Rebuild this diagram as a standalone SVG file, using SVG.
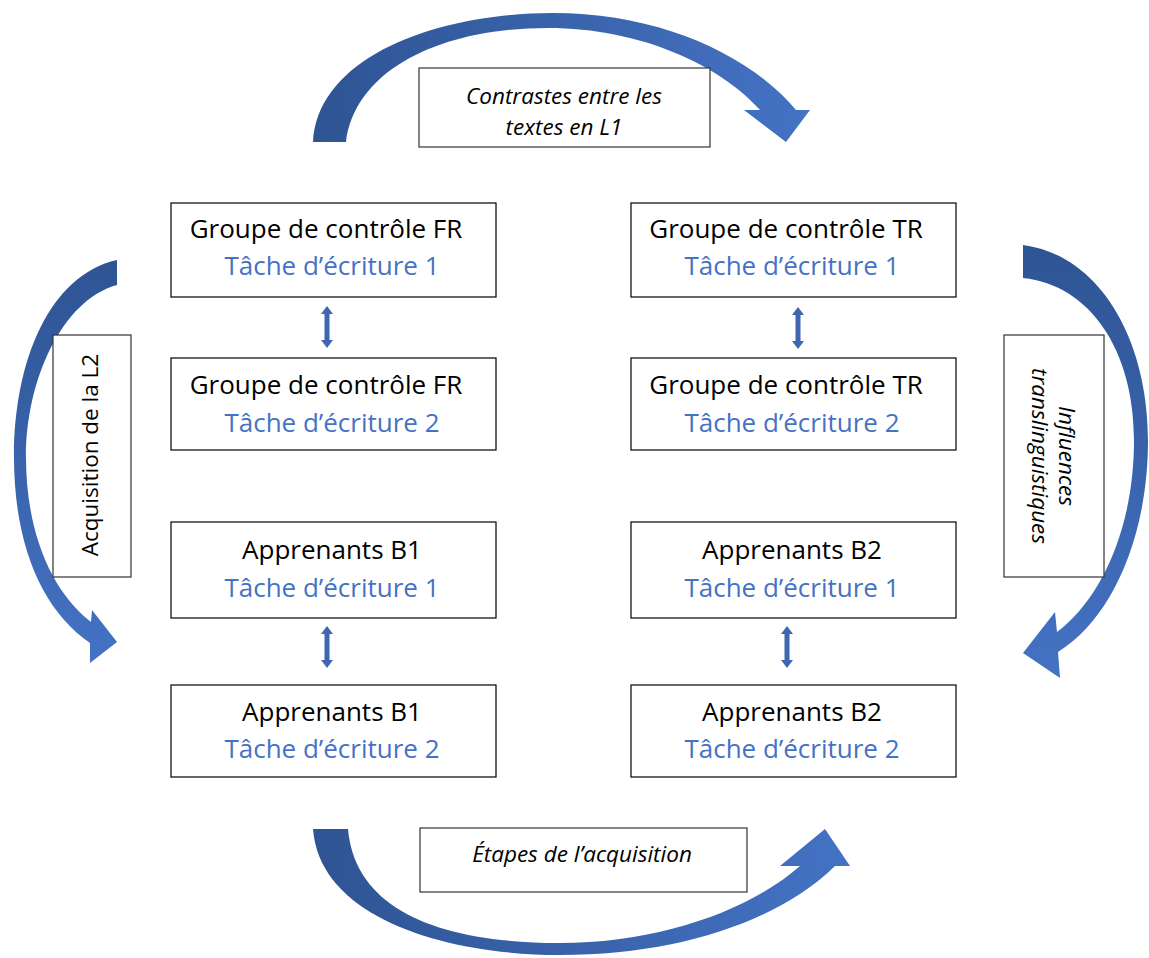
<svg xmlns="http://www.w3.org/2000/svg" width="1149" height="958" viewBox="0 0 1149 958">
<defs>
<linearGradient id="gH" x1="0" y1="0" x2="1" y2="0"><stop offset="0" stop-color="#2E5493"/><stop offset="1" stop-color="#4472C4"/></linearGradient>
<linearGradient id="gV" x1="0" y1="0" x2="0" y2="1"><stop offset="0" stop-color="#2E5493"/><stop offset="1" stop-color="#4472C4"/></linearGradient>
<style>
.box{fill:#fff;stroke:#000;stroke-width:1.2}
.lbl{fill:#fff;stroke:#333;stroke-width:1.2}
.t1{font-family:"Open Sans","Liberation Sans",sans-serif;font-size:26px;fill:#000;text-anchor:middle}
.t2{font-family:"Open Sans","Liberation Sans",sans-serif;font-size:26px;fill:#4472C4;text-anchor:middle}
.li{font-family:"Open Sans","Liberation Sans",sans-serif;font-size:22.5px;font-style:italic;fill:#000;text-anchor:middle}
.ln{font-family:"Open Sans","Liberation Sans",sans-serif;font-size:22.5px;fill:#000;text-anchor:middle}
.dbl{fill:#3F66B0}
</style>
</defs>
<rect width="1149" height="958" fill="#fff"/>
<g id="connectors">
<path id="arc-top" fill="url(#gH)" d="M313,142 C318,55 440,13 553,13 C660,13 750,55 796,110 L810,110 L786,142 L744,110 L760,110 C720,65 640,28 548,28 C440,28 355,70 346,142 Z"/>
<path id="arc-left" fill="url(#gV)" d="M117,260 C50,275 14,360 14,457 C14,545 42,610 90,643 L90,663 L117,642 L92,610 L91,622 C50,590 26,530 26,457 C26,380 62,300 117,285 Z"/>
<path id="arc-right" fill="url(#gV)" d="M1023,245 C1100,255 1148,340 1148,440 C1148,540 1110,620 1058,652 L1060,678 L1023,653 L1055,612 L1057,632 C1100,600 1134,530 1134,440 C1134,350 1090,285 1023,278 Z"/>
<path id="arc-bottom" fill="url(#gH)" d="M313,829 C320,920 450,955 560,955 C680,955 780,920 835,866 L850,866 L825,829 L780,866 L800,866 C750,910 660,943 560,943 C440,943 355,910 348,829 Z"/>
<path class="dbl" d="M327,306 L333,314 L329.5,314 L329.5,340 L333,340 L327,348 L321,340 L324.5,340 L324.5,314 L321,314 Z"/>
<path class="dbl" d="M327,626 L333,634 L329.5,634 L329.5,660 L333,660 L327,668 L321,660 L324.5,660 L324.5,634 L321,634 Z"/>
<path class="dbl" d="M798,307 L804,315 L800.5,315 L800.5,341 L804,341 L798,349 L792,341 L795.5,341 L795.5,315 L792,315 Z"/>
<path class="dbl" d="M787,626 L793,634 L789.5,634 L789.5,660 L793,660 L787,668 L781,660 L784.5,660 L784.5,634 L781,634 Z"/>
</g>
<g id="label-top"><rect class="lbl" x="419" y="68" width="291" height="79"/><text class="li" x="564" y="104">Contrastes entre les</text><text class="li" x="564" y="135">textes en L1</text></g>
<g id="label-bottom"><rect class="lbl" x="420" y="828" width="327" height="64"/><text class="li" x="582" y="862">Étapes de l’acquisition</text></g>
<g id="label-left"><rect class="lbl" x="53" y="335" width="78" height="242"/><text class="ln" transform="translate(98,455) rotate(-90)">Acquisition de la L2</text></g>
<g id="label-right"><rect class="lbl" x="1004" y="335" width="100" height="242"/><g transform="translate(1054,456) rotate(90)"><text class="li" x="0" y="-5">Influences</text><text class="li" x="0" y="22">translinguistiques</text></g></g>
<g id="fr1"><rect class="box" x="171" y="203" width="325" height="94"/><text class="t1" x="326" y="238">Groupe de contrôle FR</text><text class="t2" x="332" y="275">Tâche d’écriture 1</text></g>
<g id="fr2"><rect class="box" x="171" y="358" width="325" height="92"/><text class="t1" x="326" y="394">Groupe de contrôle FR</text><text class="t2" x="332" y="432">Tâche d’écriture 2</text></g>
<g id="b1-1"><rect class="box" x="171" y="522" width="325" height="96"/><text class="t1" x="332" y="559">Apprenants B1</text><text class="t2" x="332" y="597">Tâche d’écriture 1</text></g>
<g id="b1-2"><rect class="box" x="171" y="685" width="325" height="92"/><text class="t1" x="332" y="721">Apprenants B1</text><text class="t2" x="332" y="758">Tâche d’écriture 2</text></g>
<g id="tr1"><rect class="box" x="631" y="203" width="325" height="94"/><text class="t1" x="786" y="238">Groupe de contrôle TR</text><text class="t2" x="792" y="275">Tâche d’écriture 1</text></g>
<g id="tr2"><rect class="box" x="631" y="358" width="325" height="92"/><text class="t1" x="786" y="394">Groupe de contrôle TR</text><text class="t2" x="792" y="432">Tâche d’écriture 2</text></g>
<g id="b2-1"><rect class="box" x="631" y="522" width="325" height="96"/><text class="t1" x="792" y="559">Apprenants B2</text><text class="t2" x="792" y="597">Tâche d’écriture 1</text></g>
<g id="b2-2"><rect class="box" x="631" y="685" width="325" height="92"/><text class="t1" x="792" y="721">Apprenants B2</text><text class="t2" x="792" y="758">Tâche d’écriture 2</text></g>
</svg>
